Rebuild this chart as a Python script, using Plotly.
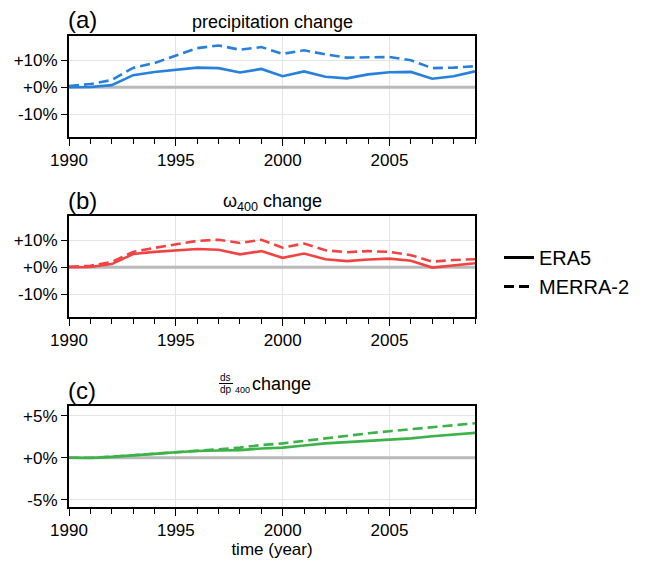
import plotly.graph_objects as go

W, H = 647, 569

years = list(range(1990, 2010))

precip_era5 = [0.0, 0.1, 0.8, 4.5, 5.7, 6.6, 7.3, 7.1, 5.5, 6.8, 4.1, 5.9, 3.9, 3.3, 4.8, 5.6, 5.7, 3.2, 4.1, 5.9]
precip_merra2 = [0.5, 1.2, 2.7, 7.2, 9.0, 11.8, 14.5, 15.5, 13.9, 14.9, 12.4, 13.7, 12.2, 11.0, 11.0, 11.2, 10.0, 7.1, 7.3, 7.8]

omega_era5 = [0.0, 0.1, 1.2, 4.9, 5.7, 6.3, 6.8, 6.5, 4.8, 6.0, 3.5, 5.1, 3.0, 2.3, 2.9, 3.2, 2.4, -0.1, 0.6, 1.5]
omega_merra2 = [0.2, 0.6, 2.0, 5.7, 7.2, 8.5, 9.8, 10.2, 9.0, 10.2, 7.3, 8.8, 6.3, 5.6, 6.0, 5.7, 4.5, 2.1, 2.7, 3.0]

dsdp_era5 = [0.0, -0.03, 0.1, 0.25, 0.45, 0.65, 0.8, 0.85, 0.9, 1.1, 1.2, 1.45, 1.7, 1.85, 2.0, 2.15, 2.3, 2.55, 2.75, 2.95]
dsdp_merra2 = [0.0, 0.0, 0.12, 0.28, 0.5, 0.65, 0.85, 1.0, 1.2, 1.5, 1.7, 2.0, 2.3, 2.65, 2.9, 3.15, 3.4, 3.65, 3.9, 4.1]

x_ticks = [1990, 1995, 2000, 2005]
y_ticks_ab = [-10, 0, 10]
y_ticktext_ab = ["-10%", "+0%", "+10%"]
y_ticks_c = [-5, 0, 5]
y_ticktext_c = ["-5%", "+0%", "+5%"]

BLUE = "rgb(38,128,220)"
RED = "rgb(240,68,68)"
GREEN = "rgb(60,178,72)"
FONT = "Liberation Sans, Arial, sans-serif"
DASH = "10px,5px"


def px(x):
    return x / W


def py(y):
    return 1 - y / H


panels = [
    dict(top=36, bot=137, yr=[-18.4, 19.0], tv=y_ticks_ab, tt=y_ticktext_ab,
         s1=precip_era5, s2=precip_merra2, color=BLUE),
    dict(top=216, bot=317, yr=[-18.4, 19.0], tv=y_ticks_ab, tt=y_ticktext_ab,
         s1=omega_era5, s2=omega_merra2, color=RED),
    dict(top=406, bot=507, yr=[-5.87, 6.15], tv=y_ticks_c, tt=y_ticktext_c,
         s1=dsdp_era5, s2=dsdp_merra2, color=GREEN),
]

fig = go.Figure()
layout = dict(
    width=W, height=H,
    margin=dict(l=0, r=0, t=0, b=0),
    paper_bgcolor="white", plot_bgcolor="white",
    font=dict(family=FONT, size=17, color="black"),
    showlegend=True,
)

for i, p in enumerate(panels):
    n = "" if i == 0 else str(i + 1)
    xa, ya = "x" + n, "y" + n
    fig.add_trace(go.Scatter(x=[1990, 2009], y=[0, 0], mode="lines",
                             line=dict(color="rgb(185,185,185)", width=3),
                             xaxis=xa, yaxis=ya, showlegend=False, hoverinfo="skip"))
    fig.add_trace(go.Scatter(x=years, y=p["s1"], mode="lines",
                             line=dict(color=p["color"], width=2.6),
                             xaxis=xa, yaxis=ya, showlegend=False))
    fig.add_trace(go.Scatter(x=years, y=p["s2"], mode="lines",
                             line=dict(color=p["color"], width=2.6, dash=DASH),
                             xaxis=xa, yaxis=ya, showlegend=False))
    layout["xaxis" + n] = dict(
        domain=[px(69), px(475)], anchor=ya, range=[1990, 2009],
        tickvals=x_ticks, ticks="outside", ticklen=7, tickwidth=1.3, tickcolor="black",
        minor=dict(dtick=1, tick0=1990, ticks="outside", ticklen=5, tickwidth=1.3,
                   tickcolor="black", showgrid=False),
        showgrid=True, gridcolor="rgb(228,228,228)", gridwidth=1,
        showline=True, linecolor="black", linewidth=2, mirror=True,
        zeroline=False, tickfont=dict(size=17), automargin=False,
    )
    layout["yaxis" + n] = dict(
        domain=[py(p["bot"]), py(p["top"])], anchor=xa, range=p["yr"],
        tickvals=p["tv"], ticktext=p["tt"], ticks="outside", ticklen=6,
        tickwidth=1.3, tickcolor="black",
        showgrid=True, gridcolor="rgb(228,228,228)", gridwidth=1,
        showline=True, linecolor="black", linewidth=2, mirror=True,
        zeroline=False, tickfont=dict(size=17), automargin=False,
    )

layout["xaxis3"]["title"] = dict(text="time (year)", font=dict(size=17), standoff=4)

fig.add_trace(go.Scatter(x=[None], y=[None], mode="lines", name="ERA5",
                         line=dict(color="black", width=3)))
fig.add_trace(go.Scatter(x=[None], y=[None], mode="lines", name="MERRA-2",
                         line=dict(color="black", width=3, dash=DASH)))
layout["legend"] = dict(x=px(499), y=py(238), xanchor="left", yanchor="top",
                        font=dict(size=20), bgcolor="rgba(0,0,0,0)",
                        tracegroupgap=0, itemwidth=30)

ann = []
labels = ["(a)", "(b)", "(c)"]
titles = ["precipitation change", "ω<sub>400</sub> change", None]
for i, p in enumerate(panels):
    ann.append(dict(text=labels[i], x=px(67), y=py(p["top"] - 16), xref="paper", yref="paper",
                    xanchor="left", yanchor="middle", showarrow=False, borderpad=0,
                    font=dict(size=24)))
    if titles[i]:
        ann.append(dict(text=titles[i], x=px(272), y=py(p["top"] - 14), xref="paper", yref="paper",
                        xanchor="center", yanchor="middle", showarrow=False, font=dict(size=18)))

# fraction title for panel (c)
small = dict(xref="paper", yref="paper", showarrow=False, borderpad=0, yanchor="middle")
ann.append(dict(text="ds", x=px(226), y=py(377), xanchor="center", font=dict(size=10), **small))
ann.append(dict(text="dp", x=px(226), y=py(389.5), xanchor="center", font=dict(size=10), **small))
ann.append(dict(text="400", x=px(234), y=py(390), xanchor="left", font=dict(size=9), **small))
ann.append(dict(text="change", x=px(251), y=py(384), xanchor="left", font=dict(size=18), **small))
layout["annotations"] = ann
layout["shapes"] = [dict(type="line", xref="paper", yref="paper",
                         x0=px(219), x1=px(233), y0=py(383.5), y1=py(383.5),
                         line=dict(color="black", width=1))]

fig.update_layout(**layout)
fig.write_html("out.html", config={"displayModeBar": False},
               post_script="document.body.style.margin='0px';")
